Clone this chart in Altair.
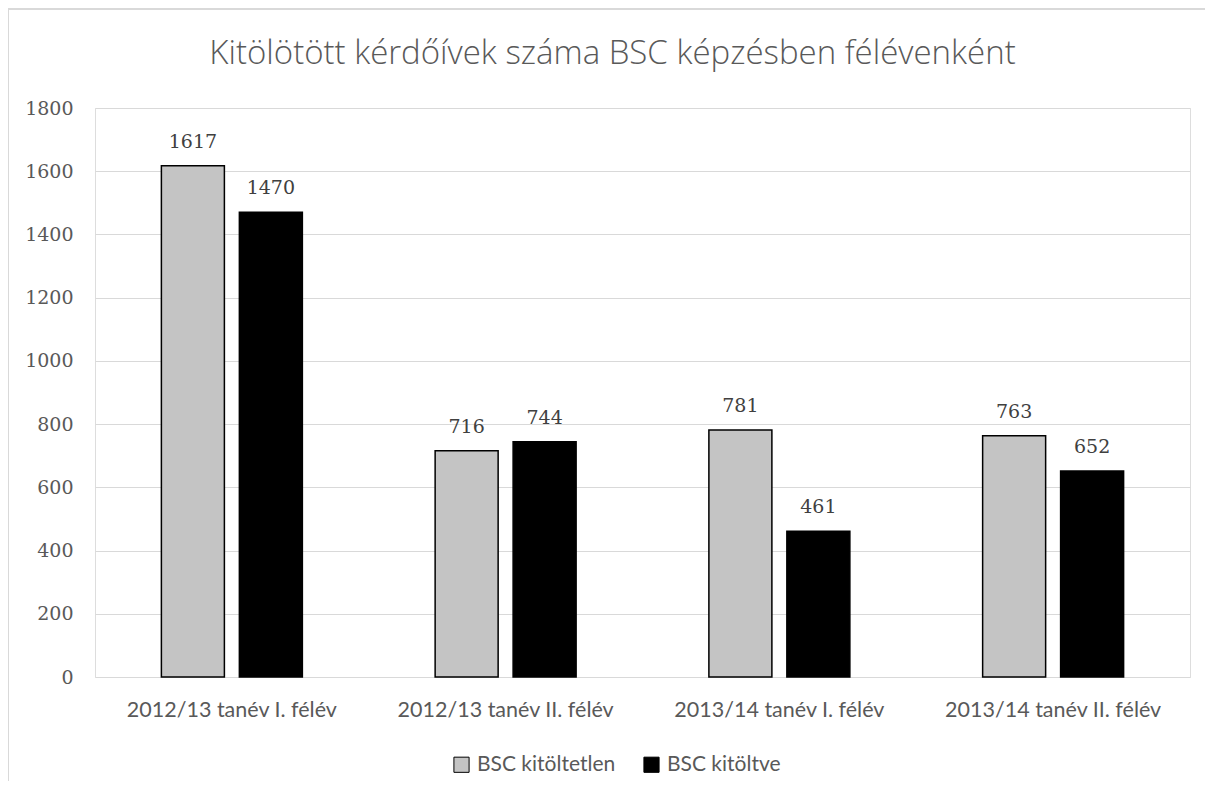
import altair as alt
import pandas as pd

categories = ["2012/13 tanév I. félév", "2012/13 tanév II. félév",
              "2013/14 tanév I. félév", "2013/14 tanév II. félév"]
series_names = ["BSC kitöltetlen", "BSC kitöltve"]
kitoltetlen = [1617, 716, 781, 763]
kitoltve = [1470, 744, 461, 652]
y_ticks = [0, 200, 400, 600, 800, 1000, 1200, 1400, 1600, 1800]

rows = []
for i, c in enumerate(categories):
    rows.append({"cat": c, "series": series_names[0], "value": kitoltetlen[i]})
    rows.append({"cat": c, "series": series_names[1], "value": kitoltve[i]})
df = pd.DataFrame(rows)

SANS = "Lato"
NUM = "DejaVu Serif"
GRAY = "#595959"

base = alt.Chart(df)

x_enc = alt.X("cat:N", sort=categories, title=None,
              scale=alt.Scale(paddingInner=0.485, paddingOuter=0.2425),
              axis=alt.Axis(labelAngle=0, labelFont=SANS, labelFontSize=21.5,
                            labelColor=GRAY, labelPadding=22, ticks=False,
                            labelLimit=0, domain=False, grid=False))
xoff_enc = alt.XOffset("series:N", sort=series_names,
                       scale=alt.Scale(paddingInner=0.192, paddingOuter=0))

bars = base.mark_bar(stroke="black", strokeWidth=1.5).encode(
    x=x_enc,
    xOffset=xoff_enc,
    y=alt.Y("value:Q", title=None,
            scale=alt.Scale(domain=[0, 1800], nice=False),
            axis=alt.Axis(values=y_ticks, format="d", labelFont=NUM, labelFontSize=19,
                          labelColor=GRAY, labelPadding=22, ticks=False,
                          domain=False, gridColor="#d9d9d9", gridWidth=1)),
    color=alt.Color("series:N", sort=series_names,
                    scale=alt.Scale(domain=series_names, range=["#c4c4c4", "#000000"]),
                    legend=alt.Legend(title=None, orient="none", direction="horizontal",
                                      legendX=356, legendY=646,
                                      labelFont=SANS, labelFontSize=21, labelColor=GRAY,
                                      symbolType="square", symbolSize=230,
                                      symbolStrokeColor="black", symbolStrokeWidth=1,
                                      columnPadding=25, labelOffset=5, labelLimit=0)),
)

labels = base.mark_text(font=NUM, fontSize=19, color="#404040", dy=-24).encode(
    x=alt.X("cat:N", sort=categories),
    xOffset=xoff_enc,
    y="value:Q",
    text="value:Q",
)

frame = alt.Chart(pd.DataFrame({"k": [0]})).mark_rect(
    fill=None, stroke="#d9d9d9", strokeWidth=2
).encode(
    x=alt.value(-87), x2=alt.value(1140), y=alt.value(-99), y2=alt.value(720)
)

chart = alt.layer(frame, bars, labels).properties(
    width=1095, height=569,
    title=alt.TitleParams("Kitölötött kérdőívek száma BSC képzésben félévenként",
                          font="Open Sans", fontSize=33, fontWeight=300,
                          color=GRAY, anchor="middle", offset=-63, dx=-30),
    autosize=alt.AutoSizeParams(type="none"),
    padding={"left": 87, "top": 100, "right": 15, "bottom": 104},
).configure_view(stroke=None).configure(background="white")

chart.save("out.html", embed_options={"renderer": "svg", "actions": False})
